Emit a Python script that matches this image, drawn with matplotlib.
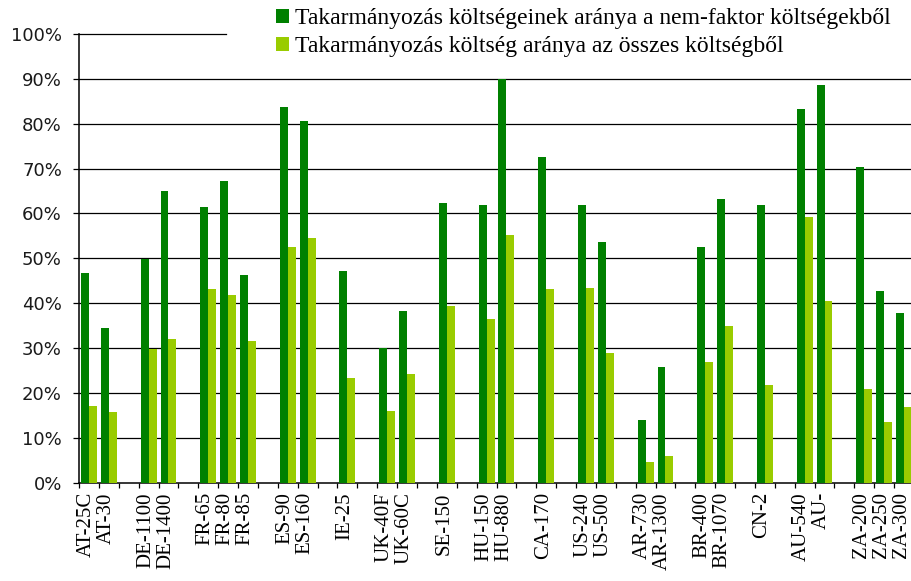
import numpy as np
import matplotlib
matplotlib.use('Agg')
import matplotlib.pyplot as plt
import matplotlib.transforms as mtransforms
from matplotlib.ticker import FixedLocator, PercentFormatter

# categories ('' = empty gap category between countries)
categories = ['AT-25C', 'AT-30', '', 'DE-1100', 'DE-1400', '', 'FR-65', 'FR-80', 'FR-85', '',
              'ES-90', 'ES-160', '', 'IE-25', '', 'UK-40F', 'UK-60C', '', 'SE-150', '',
              'HU-150', 'HU-880', '', 'CA-170', '', 'US-240', 'US-500', '', 'AR-730', 'AR-1300', '',
              'BR-400', 'BR-1070', '', 'CN-2', '', 'AU-540', 'AU-', '', 'ZA-200', 'ZA-250', 'ZA-300']

nan = np.nan
# share of feed costs in non-factor costs
feed_nonfactor = [46.6, 34.5, nan, 49.8, 64.9, nan, 61.4, 67.2, 46.3, nan,
                  83.7, 80.5, nan, 47.1, nan, 30.1, 38.2, nan, 62.3, nan,
                  61.8, 89.9, nan, 72.5, nan, 61.8, 53.7, nan, 14.0, 25.7, nan,
                  52.4, 63.1, nan, 61.8, nan, 83.3, 88.7, nan, 70.3, 42.6, 37.7]
# share of feed costs in total costs
feed_total = [17.1, 15.8, nan, 29.8, 31.9, nan, 43.1, 41.7, 31.5, nan,
              52.4, 54.6, nan, 23.4, nan, 15.9, 24.3, nan, 39.4, nan,
              36.4, 55.1, nan, 43.1, nan, 43.4, 28.8, nan, 4.6, 6.0, nan,
              26.9, 35.0, nan, 21.7, nan, 59.1, 40.4, nan, 20.8, 13.6, 16.8]

series_labels = ['Takarmányozás költségeinek aránya a nem-faktor költségekből',
                 'Takarmányozás költség aránya az összes költségből']

dark = '#008000'
light = '#99cc00'

fig = plt.figure(figsize=(9.11, 5.81), dpi=100)
ax = fig.add_axes([79 / 911, 98.5 / 581, 835 / 911, 448.5 / 581])

x = np.arange(len(categories))
w = 0.4
b1 = ax.bar(x - w / 2, np.array(feed_nonfactor) / 100, w, color=dark, label=series_labels[0], zorder=3)
b2 = ax.bar(x + w / 2, np.array(feed_total) / 100, w, color=light, label=series_labels[1], zorder=3)

ax.set_xlim(-0.5, len(categories) - 0.5)
ax.set_ylim(0, 1.0)

# horizontal gridlines (100% line is partly hidden by the legend)
for v in np.arange(0.1, 0.91, 0.1):
    ax.axhline(v, color='black', lw=0.9, zorder=1)
ax.axhline(1.0, xmin=0, xmax=(226 - 79) / 835, color='black', lw=0.9, zorder=1, clip_on=False)

for s in ['top', 'right']:
    ax.spines[s].set_visible(False)
ax.spines['left'].set_linewidth(1.1)
ax.spines['bottom'].set_linewidth(1.1)

ax.yaxis.set_major_locator(FixedLocator(np.arange(0, 1.01, 0.1)))
ax.yaxis.set_major_formatter(PercentFormatter(1.0, decimals=0))
ax.tick_params(axis='y', direction='out', length=4.3, width=0.9, pad=8,
               labelsize=13, labelcolor='#1a1a1a')

ax.set_xticks(x)
ax.set_xticklabels(categories, rotation=90, family='Liberation Serif', fontsize=15, va='top')
ax.xaxis.set_minor_locator(FixedLocator(np.arange(-0.5, len(categories), 1.0)))
ax.tick_params(axis='x', which='major', length=0, pad=7)
ax.tick_params(axis='x', which='minor', direction='out', length=3.6, width=0.9)
# labels sit a touch left of the category centre
shift = mtransforms.ScaledTranslation(-3 / 100, 0, fig.dpi_scale_trans)
for lab in ax.get_xticklabels():
    lab.set_transform(lab.get_transform() + shift)

lgd = ax.legend(handles=[b1, b2], loc='upper left', bbox_to_anchor=(274 / 911, 575 / 581),
                bbox_transform=fig.transFigure, frameon=False,
                prop={'family': 'Liberation Serif', 'size': 17},
                handlelength=0.55, handleheight=0.55, handletextpad=0.25,
                labelspacing=0.3, borderaxespad=0.0, borderpad=0.1)

plt.savefig('out.png', dpi=100)
